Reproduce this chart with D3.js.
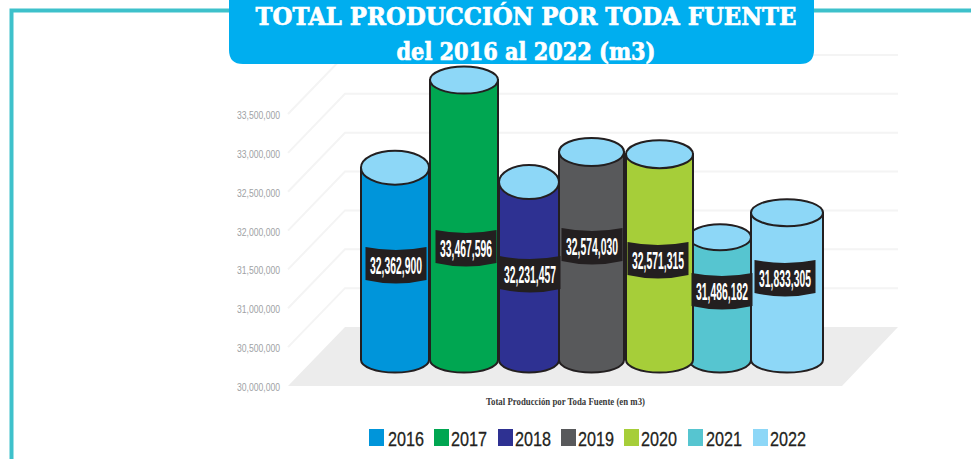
<!DOCTYPE html>
<html lang="es"><head><meta charset="utf-8">
<script src="https://cdn.jsdelivr.net/npm/d3@7/dist/d3.min.js"></script>
<style>html,body{margin:0;padding:0;background:#fff;overflow:hidden}svg{display:block}</style>
</head><body><svg id="c" width="971" height="459"></svg>
<script>
// ---- data ----
const years = ["2016","2017","2018","2019","2020","2021","2022"];
const production = [32362900,33467596,32231457,32574030,32571315,31486182,31833305];
const axisTicks = [30000000,30500000,31000000,31500000,32000000,32500000,33000000,33500000];
const titleLines = ["TOTAL PRODUCCIÓN POR TODA FUENTE","del 2016 al 2022 (m3)"];
const axisCaption = "Total Producción por Toda Fuente (en m3)";
const barColors = ["#0095da","#00a651","#2e3192","#58595b","#a6ce39","#56c5d0","#8dd7f7"];

// ---- layout (hand-drawn geometry of the artwork, separate from the data) ----
const cylLeft   = d3.scaleOrdinal(years,[361,430,499,559,626,689,751]);
const cylRight  = d3.scaleOrdinal(years,[429,498,559,624,693,751,823]);
const capRy     = d3.scaleOrdinal(years,[17,13.5,17,14,14,13,13.5]);
const capNudge  = d3.scaleOrdinal(years,[0,0,4,1,3,0,3]);
const paintRank = d3.scaleOrdinal(years,[2,3,1,4,5,0,6]);
const labelMid  = d3.scaleOrdinal(years,[265,248,274,246,260,291,278]);
const labelX    = d3.scaleOrdinal(years,[396,466,530,592,658,722,785]);
const legendX   = d3.scaleOrdinal(years,[369,434,498,561,624,688,753]);
const legendTx  = d3.scaleOrdinal(years,[388,451,515,578,641,706,770]);

const svg = d3.select("#c");
const yAxis = d3.scaleLinear().domain([30000000,33500000]).range([386,114]);
const yCyl  = d3.scaleLinear().domain([30000000,33500000]).range([355,77.5]);
const color = d3.scaleOrdinal(years,barColors);
const value = d3.scaleOrdinal(years,production);
const depthX = 57, depthY = 59, plotL = 288, plotR = 842, floorY = yAxis(30000000);
const capY = d => yCyl(value(d)) + capNudge(d);

// frame
const teal = "#3ec1cb";
svg.append("path").attr("d","M11.5,459V10.5H971").attr("fill","none").attr("stroke",teal).attr("stroke-width",4);

// floor
svg.append("path").attr("fill","#ececec")
  .attr("d",`M${plotL},${floorY}L${plotL+depthX},${floorY-depthY}H${plotR+depthX-1}L${plotR},${floorY}Z`);

// grid
const grid = svg.append("g").attr("fill","none").attr("stroke","#f4f4f4").attr("stroke-width",2);
grid.selectAll("path").data(axisTicks.slice(1)).join("path")
  .attr("d",t=>`M${plotL},${yAxis(t)}L${plotL+depthX},${yAxis(t)-depthY}H${plotR+depthX-1}`);

// axis
const ax = svg.append("g").attr("transform",`translate(${plotL-8},1)`)
  .call(d3.axisLeft(yAxis).tickValues(axisTicks).tickSize(0).tickPadding(0).tickFormat(d3.format(",")));
ax.select(".domain").remove();
ax.selectAll("text").attr("fill","#a0a2a5").attr("font-family","'Liberation Sans Narrow','Liberation Sans',sans-serif")
  .attr("font-size",11).attr("textLength",43).attr("lengthAdjust","spacingAndGlyphs");

// cylinders
const bottomY = 360, bottomRy = 12.5;
const rows = years.slice().sort((a,b)=>paintRank(a)-paintRank(b));
const cyl = svg.append("g").attr("stroke","#231f20").attr("stroke-width",2)
  .selectAll("g").data(rows).join("g");
cyl.append("path").attr("fill",d=>color(d)).attr("d",d=>{
  const l=cylLeft(d), r=cylRight(d), t=capY(d);
  return `M${l},${t}V${bottomY}A${(r-l)/2},${bottomRy} 0 0 0 ${r},${bottomY}V${t}Z`;
});
cyl.append("ellipse").attr("fill","#8dd7f7")
  .attr("cx",d=>(cylLeft(d)+cylRight(d))/2).attr("cy",capY)
  .attr("rx",d=>(cylRight(d)-cylLeft(d))/2).attr("ry",d=>capRy(d));

// value labels
const lab = svg.append("g").selectAll("g").data(years).join("g");
lab.append("path").attr("fill","#231f20").attr("d",d=>{
  const cx=labelX(d), m=labelMid(d), x0=cx-30.5, x1=cx+30.5, y0=m-18, y1=m+15;
  return `M${x0},${y0}Q${cx},${y0+6} ${x1},${y0}V${y1}Q${cx},${y1+7} ${x0},${y1}Z`;
});
lab.append("text").attr("text-anchor","middle").attr("fill","#fff").attr("font-weight","bold")
  .attr("font-family","'Liberation Sans Narrow','Liberation Sans',sans-serif").attr("font-size",24)
  .attr("dy","0.35em").text(d=>d3.format(",")(value(d)))
  .attr("transform",function(d){
    const sx = 52/this.getComputedTextLength();
    return `translate(${labelX(d)},${labelMid(d)+1}) scale(${sx},1)`;
  });

// title box
svg.append("path").attr("fill","#00aeef").attr("d","M229,0H814V50Q814,64 800,64H243Q229,64 229,50Z");
const titleAttrs = [{y:25,len:541,fs:25},{y:60,len:259,fs:24}];
svg.append("g").selectAll("text").data(titleLines).join("text")
  .attr("x",526).attr("y",(d,i)=>titleAttrs[i].y).attr("text-anchor","middle")
  .attr("fill","#fff").attr("stroke","#fff").attr("stroke-width",0.7)
  .attr("font-weight","bold").attr("font-family","'DejaVu Serif','Liberation Serif',serif")
  .attr("font-size",(d,i)=>titleAttrs[i].fs).attr("textLength",(d,i)=>titleAttrs[i].len)
  .attr("lengthAdjust","spacingAndGlyphs").text(d=>d);

// caption
svg.append("text").attr("x",565.5).attr("y",405).attr("text-anchor","middle").attr("fill","#3a3a3a")
  .attr("font-family","'Liberation Serif',serif").attr("font-weight","bold").attr("font-size",9.5)
  .attr("textLength",159).attr("lengthAdjust","spacingAndGlyphs").text(axisCaption);

// legend
const leg = svg.append("g").selectAll("g").data(years).join("g");
leg.append("rect").attr("x",d=>legendX(d)).attr("y",429).attr("width",15).attr("height",17)
  .attr("fill",d=>color(d));
leg.append("text").attr("x",d=>legendTx(d)).attr("y",446).attr("fill","#231f20")
  .attr("stroke","#231f20").attr("stroke-width",0.3)
  .attr("font-family","'Liberation Sans Narrow','Liberation Sans',sans-serif").attr("font-size",21)
  .attr("textLength",36).attr("lengthAdjust","spacingAndGlyphs").text(d=>d);
</script></body></html>
